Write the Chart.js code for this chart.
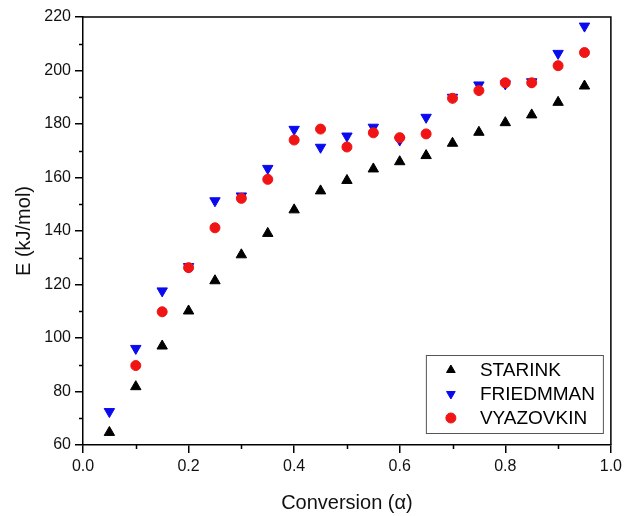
<!DOCTYPE html>
<html>
<head>
<meta charset="utf-8">
<title>Activation energy vs conversion</title>
<script src="https://cdn.jsdelivr.net/npm/chart.js@4/dist/chart.umd.min.js"></script>
<style>
  html, body { margin: 0; padding: 0; background: #ffffff; }
  #wrap { width: 626px; height: 516px; }
</style>
</head>
<body>
<div id="wrap"><canvas id="chart" width="626" height="516"></canvas></div>
<script>
// Conversion (alpha) values
const conversion = [0.05, 0.10, 0.15, 0.20, 0.25, 0.30, 0.35, 0.40, 0.45, 0.50,
                    0.55, 0.60, 0.65, 0.70, 0.75, 0.80, 0.85, 0.90, 0.95];

// Activation energy E (kJ/mol) per isoconversional method
const starink   = [64.7, 81.8, 97.0, 110.1, 121.4, 131.1, 139.1, 147.9, 155.0, 158.9,
                   163.2, 165.9, 168.2, 172.8, 176.9, 180.5, 183.4, 188.1, 194.2];
const friedmman = [72.5, 96.1, 117.6, 126.7, 151.3, 153.1, 163.4, 178.0, 171.3, 175.5,
                   178.8, 174.0, 182.5, 190.0, 194.6, 195.0, 195.8, 206.4, 216.6];
const vyazovkin = [null, 89.7, 109.8, 126.3, 141.2, 152.2, 159.3, 174.0, 178.1, 171.4,
                   176.7, 174.9, 176.3, 189.6, 192.5, 195.4, 195.4, 201.8, 206.7];

const seriesNames = ['STARINK', 'FRIEDMMAN', 'VYAZOVKIN'];

// Axis ranges and tick labels
const xTicks = [0.0, 0.2, 0.4, 0.6, 0.8, 1.0];
const yTicks = [60, 80, 100, 120, 140, 160, 180, 200, 220];

const FONT = "'Liberation Sans', Arial, Helvetica, sans-serif";

function toPoints(ys) {
  const pts = [];
  ys.forEach((y, i) => { if (y !== null) pts.push({ x: conversion[i], y: y }); });
  return pts;
}

// Minor ticks between labelled ticks, the closed frame and the inset legend
const framePlugin = {
  id: 'frame',
  afterDraw(chart) {
    const { ctx, chartArea: a, scales } = chart;
    ctx.save();
    ctx.strokeStyle = '#000';
    ctx.lineWidth = 1.5;
    // top and right edges of the frame
    ctx.beginPath();
    ctx.moveTo(a.left, a.top);
    ctx.lineTo(a.right, a.top);
    ctx.lineTo(a.right, a.bottom);
    ctx.stroke();

    // minor ticks
    ctx.beginPath();
    for (let i = 0; i < xTicks.length - 1; i++) {
      const px = Math.round(scales.x.getPixelForValue((xTicks[i] + xTicks[i + 1]) / 2)) + 0.5;
      ctx.moveTo(px, a.bottom);
      ctx.lineTo(px, a.bottom + 4);
    }
    for (let i = 0; i < yTicks.length - 1; i++) {
      const py = Math.round(scales.y.getPixelForValue((yTicks[i] + yTicks[i + 1]) / 2)) + 0.5;
      ctx.moveTo(a.left, py);
      ctx.lineTo(a.left - 4, py);
    }
    ctx.stroke();

    // legend box
    const bx = a.right - 185, by = a.bottom - 90, bw = 177, bh = 78;
    ctx.lineWidth = 1;
    ctx.strokeStyle = '#555';
    ctx.fillStyle = '#fff';
    ctx.fillRect(bx, by, bw, bh);
    ctx.strokeRect(bx + 0.5, by + 0.5, bw, bh);

    ctx.font = '19px ' + FONT;
    ctx.textBaseline = 'middle';
    ctx.textAlign = 'left';
    chart.data.datasets.forEach((ds, i) => {
      const cy = by + 15 + i * 24;
      const cx = bx + 25;
      ctx.fillStyle = ds.backgroundColor;
      ctx.strokeStyle = ds.borderColor;
      ctx.lineWidth = 1;
      Chart.helpers.drawPoint(ctx, {
        pointStyle: ds.pointStyle,
        rotation: ds.rotation || 0,
        radius: 5,
        borderWidth: 1
      }, cx, cy);
      ctx.fillStyle = '#000';
      ctx.fillText(ds.label, bx + 54, cy + 1);
    });
    ctx.restore();
  }
};

const axisFont = { family: FONT, size: 16 };
const titleFont = { family: FONT, size: 20 };

new Chart(document.getElementById('chart'), {
  type: 'scatter',
  data: {
    datasets: [
      {
        label: seriesNames[0],
        data: toPoints(starink),
        pointStyle: 'triangle',
        pointRadius: 6,
        backgroundColor: '#000000',
        borderColor: '#000000',
        borderWidth: 1,
        order: 2
      },
      {
        label: seriesNames[1],
        data: toPoints(friedmman),
        pointStyle: 'triangle',
        rotation: 180,
        pointRadius: 6,
        backgroundColor: '#0a0aee',
        borderColor: '#0a0aee',
        borderWidth: 1,
        order: 1
      },
      {
        label: seriesNames[2],
        data: toPoints(vyazovkin),
        pointStyle: 'circle',
        pointRadius: 5,
        backgroundColor: '#f01414',
        borderColor: '#f01414',
        borderWidth: 1,
        order: 0
      }
    ]
  },
  options: {
    responsive: false,
    animation: false,
    events: [],
    layout: { padding: { top: 17, right: 13, left: 0, bottom: 0 } },
    plugins: {
      legend: { display: false },
      tooltip: { enabled: false }
    },
    scales: {
      x: {
        type: 'linear',
        min: xTicks[0],
        max: xTicks[xTicks.length - 1],
        afterFit(scale) { scale.height = 71; },
        afterBuildTicks(scale) { scale.ticks = xTicks.map(v => ({ value: v })); },
        ticks: {
          color: '#111',
          font: axisFont,
          padding: 4,
          maxRotation: 0,
          callback: v => Number(v).toFixed(1)
        },
        grid: { drawOnChartArea: false, drawTicks: true, tickLength: 8, color: '#000', lineWidth: 1.5 },
        border: { display: true, color: '#000', width: 1.5 },
        title: {
          display: true,
          text: 'Conversion (\u03B1)',
          color: '#111',
          font: titleFont,
          padding: { top: 0, bottom: 1 }
        }
      },
      y: {
        type: 'linear',
        min: yTicks[0],
        max: yTicks[yTicks.length - 1],
        afterFit(scale) { scale.width = 83; },
        afterBuildTicks(scale) { scale.ticks = yTicks.map(v => ({ value: v })); },
        ticks: {
          color: '#111',
          font: axisFont,
          padding: 4
        },
        grid: { drawOnChartArea: false, drawTicks: true, tickLength: 8, color: '#000', lineWidth: 1.5 },
        border: { display: true, color: '#000', width: 1.5 },
        title: {
          display: true,
          text: 'E (kJ/mol)',
          color: '#111',
          font: titleFont,
          padding: { top: 12, bottom: 0 }
        }
      }
    }
  },
  plugins: [framePlugin]
});
</script>
</body>
</html>
